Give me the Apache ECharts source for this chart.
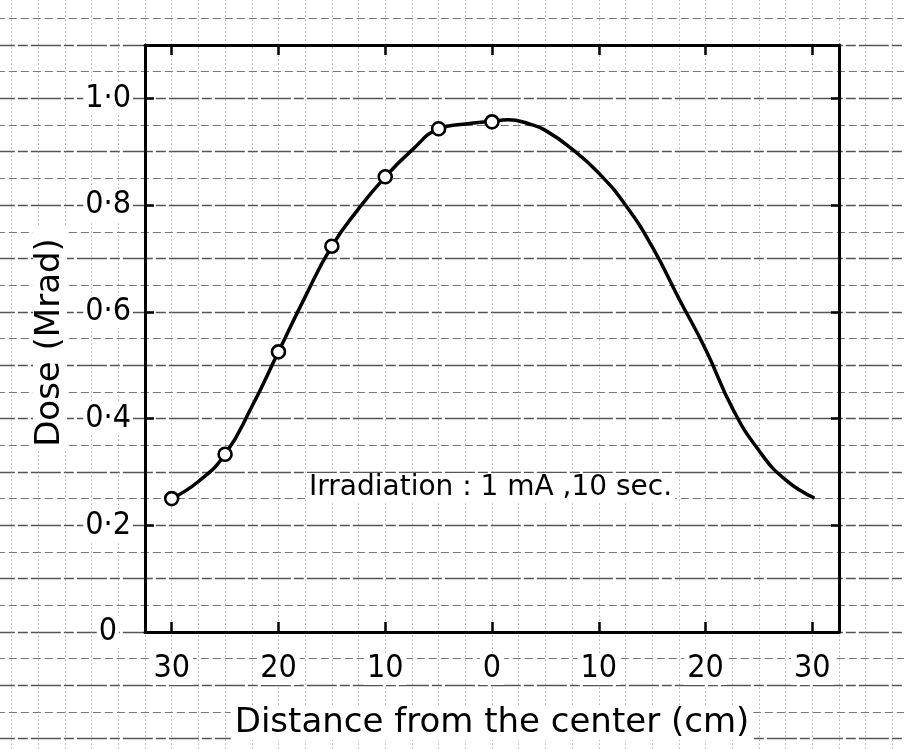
<!DOCTYPE html>
<html><head><meta charset="utf-8">
<script src="https://cdn.jsdelivr.net/npm/echarts@6/dist/echarts.min.js"></script>
<style>html,body{margin:0;padding:0;background:#fff}#c{width:904px;height:749px}</style>
</head><body><div id="c"></div>
<script>
// ---- data ----
// measured points (open circles)
const measuredX = [-30, -25, -20, -15, -10, -5, 0];
const measuredDose = [0.25, 0.333, 0.525, 0.723, 0.853, 0.943, 0.956];
// drawn curve
const curveX = [-30, -27.5, -25, -22.5, -20, -17.5, -15, -12.5, -10, -7.5, -5, -2.5, 0, 1.5, 3.5, 5, 7.5, 10, 12.5, 15, 17.5, 20, 22.5, 25, 27.5, 30.2];
const curveDose = [0.25, 0.282, 0.333, 0.422, 0.525, 0.628, 0.723, 0.793, 0.853, 0.903, 0.943, 0.952, 0.957, 0.96, 0.952, 0.94, 0.905, 0.86, 0.8, 0.722, 0.625, 0.53, 0.42, 0.34, 0.285, 0.251];
const xTickValues = [-30, -20, -10, 0, 10, 20, 30];
const yTickValues = [0, 0.2, 0.4, 0.6, 0.8, 1.0];
const xAxisTitle = 'Distance from the center (cm)';
const yAxisTitle = 'Dose (Mrad)';
const annotationText = 'Irradiation : 1 mA ,10 sec.';

// ---- layout ----
const W = 904, H = 749;
const L = 145, R = 65, T = 45, B = 117;
const xMin = -32.5, xMax = 32.5, yMin = 0, yMax = 1.1;
const pxX = (W - L - R) / (xMax - xMin);
const pxY = (H - T - B) / (yMax - yMin);
// background graph paper (extends over the whole picture)
const bxMin = -47.5, bxMax = 40, bxInt = 2.5;
const byMin = -0.3, byMax = 1.2, byInt = 0.1;
const bL = L - (xMin - bxMin) * pxX;
const bR = R - (bxMax - xMax) * pxX;
const bT = T - (byMax - yMax) * pxY;
const bB = B - (yMin - byMin) * pxY;

const FONT_C = '"DejaVu Sans Condensed", "DejaVu Sans", sans-serif';
const FONT = '"DejaVu Sans", sans-serif';

const measured = measuredX.map((x, i) => [x, measuredDose[i]]);
const curve = curveX.map((x, i) => [x, curveDose[i]]);

const chart = echarts.init(document.getElementById('c'), null, {renderer: 'canvas'});

const boxLine = {show: true, onZero: false, lineStyle: {color: '#000', width: 3}};
const tickStyle = (vals, len) => ({show: true, inside: true, length: len, customValues: vals, lineStyle: {color: '#000', width: 2.5}});

chart.setOption({
  backgroundColor: '#fff',
  animation: false,
  grid: [
    {left: L, right: R, top: T, bottom: B, outerBoundsMode: 'none', containLabel: false},
    {left: bL, right: bR, top: bT, bottom: bB, outerBoundsMode: 'none', containLabel: false}
  ],
  xAxis: [
    {
      type: 'value', gridIndex: 0, min: xMin, max: xMax, position: 'bottom', z: 10,
      axisLine: boxLine,
      axisTick: tickStyle(xTickValues, 10),
      splitLine: {show: false},
      axisLabel: {
        customValues: xTickValues, margin: 21, color: '#000', fontSize: 32, fontFamily: FONT_C,
        backgroundColor: '#fff', padding: [0, 3],
        formatter: v => String(Math.abs(v))
      },
      name: xAxisTitle, nameLocation: 'middle', nameGap: 74,
      nameTextStyle: {color: '#000', fontSize: 34, fontFamily: FONT, backgroundColor: '#fff', padding: [0, 4]}
    },
    {
      type: 'value', gridIndex: 0, min: xMin, max: xMax, position: 'top', z: 10,
      axisLine: boxLine,
      axisTick: tickStyle(xTickValues, 10),
      splitLine: {show: false},
      axisLabel: {show: false}
    },
    {
      type: 'value', gridIndex: 1, min: bxMin, max: bxMax, interval: bxInt, z: 0,
      axisLine: {show: false}, axisTick: {show: false}, axisLabel: {show: false},
      splitLine: {show: true, lineStyle: {color: '#8a8a8a', width: 1, type: [1, 3]}}
    }
  ],
  yAxis: [
    {
      type: 'value', gridIndex: 0, min: yMin, max: yMax, position: 'left', z: 10,
      axisLine: boxLine,
      axisTick: tickStyle(yTickValues, 9),
      splitLine: {show: false},
      axisLabel: {
        customValues: yTickValues, margin: 12, color: '#000', fontSize: 32, fontFamily: FONT_C,
        formatter: v => v === 0 ? '{z|0}{g|}' : '{z|' + v.toFixed(1).replace('.', '·') + '}',
        rich: {
          z: {fontSize: 32, fontFamily: FONT_C, color: '#000', backgroundColor: '#fff', padding: [0, 2]},
          g: {width: 14}
        }
      },
      name: yAxisTitle, nameLocation: 'middle', nameRotate: 90, nameGap: 78,
      nameTextStyle: {color: '#000', fontSize: 34, fontFamily: FONT, backgroundColor: '#fff', padding: [0, 12, 0, 4]}
    },
    {
      type: 'value', gridIndex: 0, min: yMin, max: yMax, position: 'right', z: 10,
      axisLine: boxLine,
      axisTick: tickStyle(yTickValues, 8),
      splitLine: {show: false},
      axisLabel: {show: false}
    },
    {
      type: 'value', gridIndex: 1, min: byMin, max: byMax, interval: byInt, z: 0,
      axisLine: {show: false}, axisTick: {show: false}, axisLabel: {show: false},
      minorTick: {show: false, splitNumber: 2},
      splitLine: {show: true, lineStyle: {color: '#555', width: 1.3, type: [30, 3, 10, 3]}},
      minorSplitLine: {show: true, lineStyle: {color: '#777', width: 1, type: [8, 4]}}
    }
  ],
  graphic: [
    {
      type: 'text', left: 306, top: 473, z: 20,
      style: {text: annotationText, font: '28px ' + FONT, fill: '#000', backgroundColor: '#fff', padding: [1, 3]}
    }
  ],
  series: [
    {
      name: 'curve', type: 'line', xAxisIndex: 0, yAxisIndex: 0, data: curve,
      smooth: 0.5, symbol: 'none', z: 3,
      lineStyle: {color: '#000', width: 3.5}
    },
    {
      name: 'measured', type: 'scatter', xAxisIndex: 0, yAxisIndex: 0, data: measured,
      symbol: 'circle', symbolSize: 13, z: 4,
      itemStyle: {color: '#fff', borderColor: '#000', borderWidth: 2.6, opacity: 1}
    }
  ]
});
</script>
</body></html>
